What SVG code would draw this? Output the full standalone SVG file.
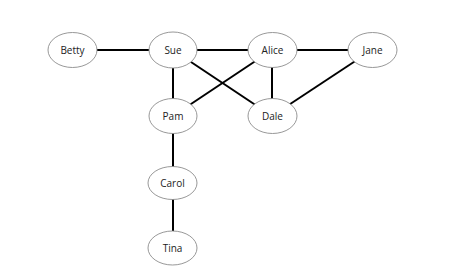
<svg xmlns="http://www.w3.org/2000/svg" width="450" height="280" viewBox="0 0 450 280">
<style>
.e{fill:#fff;stroke:#8c8c8c;stroke-width:0.9}
.t{font-family:"Open Sans","Liberation Sans",sans-serif;font-size:10px;fill:#222;text-anchor:middle;dominant-baseline:central}
.c line{stroke:#000;stroke-width:2}
</style>
<rect width="450" height="280" fill="#fff"/>
<g class="c" id="connectors">
<line x1="72" y1="50" x2="173" y2="50"/>
<line x1="173" y1="50" x2="272" y2="50"/>
<line x1="272" y1="50" x2="372" y2="50"/>
<line x1="173" y1="50" x2="173" y2="116"/>
<line x1="173" y1="50" x2="272" y2="116"/>
<line x1="272" y1="50" x2="173" y2="116"/>
<line x1="272" y1="50" x2="272" y2="116"/>
<line x1="372" y1="50" x2="272" y2="116"/>
<line x1="173" y1="116" x2="173" y2="183"/>
<line x1="173" y1="183" x2="173" y2="248"/>
</g>
<g id="betty"><ellipse class="e" cx="72.5" cy="50" rx="24.5" ry="17.5"/><text class="t" x="72.5" y="50">Betty</text></g>
<g id="sue"><ellipse class="e" cx="173" cy="50" rx="24" ry="18"/><text class="t" x="173" y="50">Sue</text></g>
<g id="alice"><ellipse class="e" cx="272.5" cy="50" rx="24.5" ry="17.5"/><text class="t" x="272.5" y="50">Alice</text></g>
<g id="jane"><ellipse class="e" cx="372.5" cy="50" rx="24.5" ry="17.5"/><text class="t" x="372.5" y="50">Jane</text></g>
<g id="pam"><ellipse class="e" cx="173" cy="116" rx="24" ry="17.5"/><text class="t" x="173" y="116">Pam</text></g>
<g id="dale"><ellipse class="e" cx="272.5" cy="116" rx="24.5" ry="17.5"/><text class="t" x="272.5" y="116">Dale</text></g>
<g id="carol"><ellipse class="e" cx="172.5" cy="183" rx="24.5" ry="16.5"/><text class="t" x="172.5" y="183">Carol</text></g>
<g id="tina"><ellipse class="e" cx="172.5" cy="248" rx="24.5" ry="17"/><text class="t" x="172.5" y="248">Tina</text></g>
</svg>
